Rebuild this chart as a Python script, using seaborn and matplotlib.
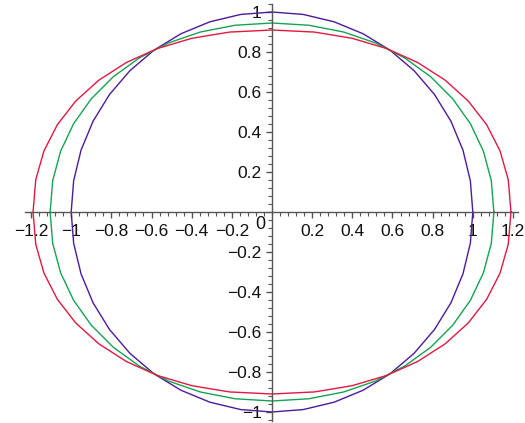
import numpy as np
import pandas as pd
import matplotlib
matplotlib.use("Agg")
import matplotlib.pyplot as plt
from matplotlib.ticker import MultipleLocator, FixedLocator, FuncFormatter
import seaborn as sns

# Three closed curves |x/a|^p + |y/b|^p = 1: semi-axes, exponent and colour
curve_names = ["circle", "curve_b", "curve_c"]
semi_x = [1.0, 1.105, 1.19]
semi_y = [1.0, 0.945, 0.91]
exponent = [2.0, 2.07, 2.15]
colors = ["#4b1a9e", "#12a554", "#e2183f"]
n_samples = 41

x_ticks = [-1.2, -1.0, -0.8, -0.6, -0.4, -0.2, 0.2, 0.4, 0.6, 0.8, 1.0, 1.2]
y_ticks = [-1.0, -0.8, -0.6, -0.4, -0.2, 0.2, 0.4, 0.6, 0.8, 1.0]

rows = []
t = np.linspace(0, 2 * np.pi, n_samples)
for name, a, b, p in zip(curve_names, semi_x, semi_y, exponent):
    c, s = np.cos(t), np.sin(t)
    xs = a * np.sign(c) * np.abs(c) ** (2 / p)
    ys = b * np.sign(s) * np.abs(s) ** (2 / p)
    for i in range(len(t)):
        rows.append({"curve": name, "order": i, "x": xs[i], "y": ys[i]})
df = pd.DataFrame(rows)

sns.set_style("white")
plt.rcParams["font.family"] = ["Liberation Sans", "DejaVu Sans"]
plt.rcParams["axes.unicode_minus"] = True

fig = plt.figure(figsize=(5.25, 4.23), dpi=100)
W, H = 525, 423
ax = fig.add_axes([25 / W, 2 / H, 493 / W, 417 / H])

sns.lineplot(data=df, x="x", y="y", hue="curve", units="curve", estimator=None,
             sort=False, palette=dict(zip(curve_names, colors)), linewidth=1.0,
             legend=False, ax=ax)

ax.set_xlim(-1.23, 1.225)
ax.set_ylim(-1.045, 1.04)
ax.set_xlabel("")
ax.set_ylabel("")

for side in ["top", "right"]:
    ax.spines[side].set_visible(False)
for side in ["left", "bottom"]:
    ax.spines[side].set_position(("data", 0))
    ax.spines[side].set_color("#555555")
    ax.spines[side].set_linewidth(1.0)

def fmt(v, pos):
    s = f"{v:.1f}"
    if s.endswith(".0"):
        s = s[:-2]
    return s.replace("-", "\u2212")

ax.xaxis.set_major_locator(FixedLocator(x_ticks))
ax.yaxis.set_major_locator(FixedLocator(y_ticks))
ax.xaxis.set_major_formatter(FuncFormatter(fmt))
ax.yaxis.set_major_formatter(FuncFormatter(fmt))
ax.xaxis.set_minor_locator(MultipleLocator(0.04))
ax.yaxis.set_minor_locator(MultipleLocator(0.04))
ax.tick_params(which="both", bottom=True, left=True, top=False, right=False)
ax.tick_params(which="major", direction="out", length=4.5, width=1.0,
               color="#555555", labelsize=12.5, labelcolor="#111111", pad=3)
ax.tick_params(which="minor", direction="out", length=2.8, width=0.8,
               color="#555555")
ax.tick_params(axis="x", which="major", pad=4)

ax.text(-0.035, -0.02, "0", ha="right", va="top", fontsize=13, color="#111111")

fig.savefig("out.png", dpi=100)
